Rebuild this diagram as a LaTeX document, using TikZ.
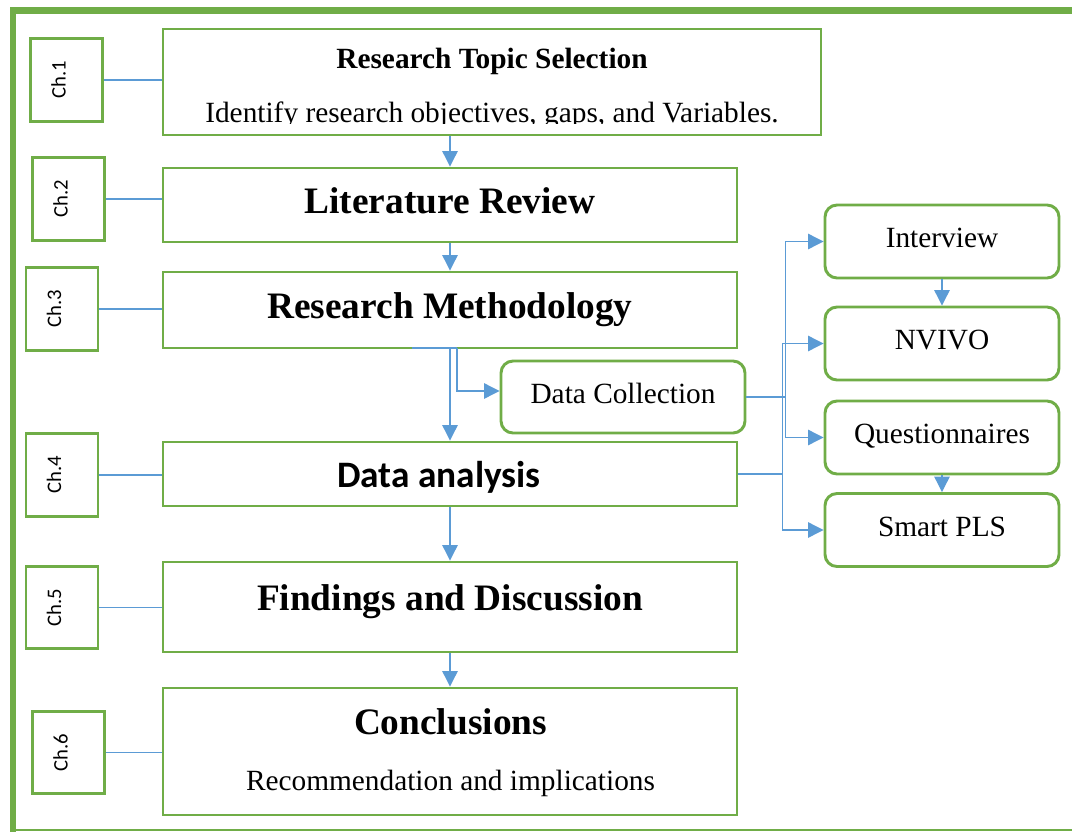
\documentclass[tikz,border=0pt]{standalone}
\usepackage{fontspec}
\setmainfont{Liberation Serif}
\newfontfamily\calibri{Carlito}
\usepackage{graphicx}
\usepackage{tikz}
\usetikzlibrary{arrows.meta}
\definecolor{boxgreen}{HTML}{70AD47}
\definecolor{linkblue}{HTML}{5B9BD5}

\begin{document}
\begin{tikzpicture}[x=0.75pt,y=-0.75pt,>={Triangle[length=11.5pt,width=11.5pt]},
		link/.style={draw=linkblue,line width=0.9pt},
		chap node/.style={draw=boxgreen,line width=2.2pt,minimum width=54pt,minimum height=62pt,inner sep=0pt,font=\calibri\fontsize{15.5}{17}\selectfont},
		step node/.style={draw=boxgreen,line width=2.2pt,minimum width=430.5pt,inner sep=0pt,text depth=0pt},
		sub node/.style={draw=boxgreen,line width=2.2pt,rounded corners=9pt,minimum width=175.5pt,minimum height=54.75pt,inner sep=0pt,text height=9.5pt,text depth=0pt,font=\fontsize{22}{26}\selectfont},
		big text/.style={font=\fontsize{28}{33}\selectfont\bfseries},
		small text/.style={font=\fontsize{22}{26}\selectfont}]
		
		\useasboundingbox (0,0) rectangle (1072,832);
		\draw[boxgreen,line width=5pt] (13,832) -- (13,10.5) -- (1072,10.5);
		\draw[boxgreen,line width=1.5pt] (13,830) -- (1072,830);
		
		\node[step node,minimum width=493.5pt,minimum height=79.5pt](topic) at (492,82){};
		\node[font=\fontsize{22}{26}\selectfont\bfseries,anchor=base](topicttl) at (492,68){Research Topic Selection};
		\begin{scope}
			\clip (163,29) rectangle (821,123);
			\node[small text,anchor=base](topicsub) at (492,122){Identify research objectives, gaps, and Variables.};
		\end{scope}
		\node[step node,big text,minimum height=55.5pt,text height=12pt](lit) at (450,205){Literature Review};
		\node[step node,big text,minimum height=57pt,text height=12pt](meth) at (450,310){Research Methodology};
		\node[step node,font=\calibri\bfseries\fontsize{28}{33}\selectfont,minimum height=48pt,text height=19.5pt](ana) at (450,474){Data analysis\hspace{16.5pt}\mbox{}};
		\node[step node,big text,minimum height=67.5pt,text height=4.5pt](find) at (450,607){Findings and Discussion};
		\node[step node,minimum height=95.25pt](concl) at (450,751.5){};
		\node[big text,anchor=base](concltl) at (450.5,734){Conclusions};
		\node[small text,anchor=base](conclsub) at (450.5,790){Recommendation and implications};
		
		\node[chap node](ch1) at (66.5,80){\rotatebox{90}{Ch.1}\hspace{12pt}\mbox{}};
		\node[chap node](ch2) at (68.5,199){\rotatebox{90}{Ch.2}\hspace{12pt}\mbox{}};
		\node[chap node](ch3) at (62,309){\rotatebox{90}{Ch.3}\hspace{12pt}\mbox{}};
		\node[chap node](ch4) at (62,475){\rotatebox{90}{Ch.4}\hspace{12pt}\mbox{}};
		\node[chap node](ch5) at (62,607.5){\rotatebox{90}{Ch.5}\hspace{12pt}\mbox{}};
		\node[chap node](ch6) at (68.5,752.5){\rotatebox{90}{Ch.6}\hspace{12pt}\mbox{}};
		
		\node[sub node,minimum width=183pt,minimum height=54pt,text height=9pt](dcol) at (623,397){Data Collection};
		\node[sub node](intv) at (942,241.5){Interview};
		\node[sub node](nvivo) at (942,343.5){NVIVO};
		\node[sub node](quest) at (942,437.5){Questionnaires};
		\node[sub node](smart) at (942,530){Smart PLS};
		
		\draw[link] (ch1.east) -- (ch1.east -| topic.west);
		\draw[link] (ch2.east) -- (ch2.east -| lit.west);
		\draw[link] (ch3.east) -- (ch3.east -| meth.west);
		\draw[link] (ch4.east) -- (ch4.east -| ana.west);
		\draw[link] (ch5.east) -- (ch5.east -| find.west);
		\draw[link] (ch6.east) -- (ch6.east -| concl.west);
		
		\draw[link,->] (topic.south -| lit.north) -- (lit.north);
		\draw[link,->] (lit) -- (meth);
		\draw[link,->] (meth) -- (ana);
		\draw[link,->] (ana) -- (find);
		\draw[link,->] (find) -- (concl);
		\draw[link,->] (intv) -- (nvivo);
		\draw[link,->] (quest) -- (smart);
		
		\coordinate (msplit) at (412,348);
		\coordinate (mturn) at (457,348);
		\draw[link] (msplit) -- (mturn);
		\draw[link,->] (mturn) |- ([yshift=4.5pt]dcol.west);
		
		\draw[link] (dcol.east) -- ++(39,0) coordinate (dfork);
		\draw[link,->] (dfork) |- (intv.west);
		\draw[link,->] (dfork) |- (quest.west);
		\draw[link] (ana.east) -- ++(44,0) coordinate (afork);
		\draw[link,->] (afork) |- (nvivo.west);
		\draw[link,->] (afork) |- (smart.west);
		
	\end{tikzpicture}
\end{document}
